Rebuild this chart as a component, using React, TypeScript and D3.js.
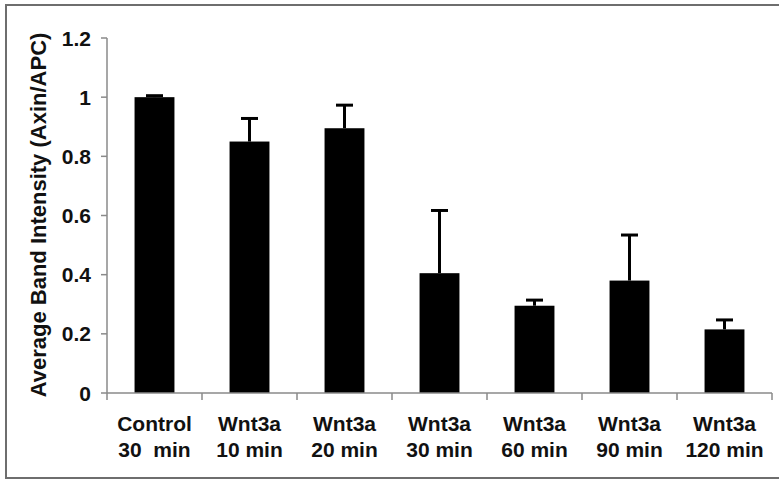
import React from "react";
import * as d3 from "d3";

const categories = [
  ["Control", "30  min"],
  ["Wnt3a", "10 min"],
  ["Wnt3a", "20 min"],
  ["Wnt3a", "30 min"],
  ["Wnt3a", "60 min"],
  ["Wnt3a", "90 min"],
  ["Wnt3a", "120 min"],
];
const values = [1.0, 0.85, 0.895, 0.405, 0.295, 0.38, 0.215];
const errors = [0.005, 0.078, 0.078, 0.212, 0.019, 0.154, 0.032];
const yTicks = [0, 0.2, 0.4, 0.6, 0.8, 1, 1.2];
const yLabel = "Average Band Intensity (Axin/APC)";

const W = 779;
const H = 480;
const left = 107;
const right = 772;
const top = 38;
const bottom = 393;
const font = "'Liberation Sans', Arial, sans-serif";

export default function App() {
  const x = d3
    .scaleBand<number>()
    .domain(d3.range(categories.length))
    .range([left, right])
    .paddingInner(0.58)
    .paddingOuter(0.29);
  const xb = d3.scaleBand<number>().domain(d3.range(categories.length)).range([left, right]);
  const y = d3.scaleLinear().domain([0, 1.2]).range([bottom, top]);
  const bw = x.bandwidth();
  const capW = 17;
  const axisColor = "#8a8a8a";

  return (
    <svg
      width={W}
      height={H}
      style={{ position: "absolute", left: 0, top: 0, background: "#fff" }}
      fontFamily={font}
      fontWeight="bold"
    >
      <rect x={0} y={0} width={W} height={H} fill="#fff" />
      <rect x={6} y={5} width={W + 10} height={473} fill="none" stroke="#6e6e6e" strokeWidth={2} />

      {/* error bars */}
      {values.map((v, i) => {
        const cx = (x(i) as number) + bw / 2;
        const yt = y(v + errors[i]);
        return (
          <g key={"e" + i} stroke="#000" strokeWidth={3}>
            <line x1={cx} x2={cx} y1={y(v)} y2={yt} />
            <line x1={cx - capW / 2} x2={cx + capW / 2} y1={yt} y2={yt} />
          </g>
        );
      })}

      {/* bars */}
      {values.map((v, i) => (
        <rect
          key={"b" + i}
          x={x(i) as number}
          y={y(v)}
          width={bw}
          height={y(0) - y(v)}
          fill="#000"
        />
      ))}

      {/* y axis */}
      <line x1={left} x2={left} y1={top} y2={bottom} stroke={axisColor} strokeWidth={1.5} />
      {yTicks.map((t) => (
        <g key={"yt" + t}>
          <line x1={left - 6} x2={left} y1={y(t)} y2={y(t)} stroke={axisColor} strokeWidth={1.5} />
          <text
            x={91}
            y={y(t)}
            textAnchor="end"
            dominantBaseline="central"
            fontSize={21}
            fill="#111"
          >
            {String(t)}
          </text>
        </g>
      ))}

      {/* x axis */}
      <line x1={left} x2={right} y1={bottom} y2={bottom} stroke={axisColor} strokeWidth={1.5} />
      {d3.range(categories.length + 1).map((i) => {
        const xx = i < categories.length ? (xb(i) as number) : right;
        return (
          <line key={"xt" + i} x1={xx} x2={xx} y1={bottom} y2={bottom + 7} stroke={axisColor} strokeWidth={1.5} />
        );
      })}
      {categories.map((c, i) => {
        const cx = (x(i) as number) + bw / 2;
        return (
          <text key={"xl" + i} textAnchor="middle" fontSize={21} fill="#111" style={{ whiteSpace: "pre" }}>
            <tspan x={cx} y={431}>{c[0]}</tspan>
            <tspan x={cx} y={457}>{c[1]}</tspan>
          </text>
        );
      })}

      {/* y label */}
      <text
        transform={`translate(38, ${(30 + 400) / 2}) rotate(-90)`}
        textAnchor="middle"
        dominantBaseline="central"
        fontSize={22}
        fill="#111"
      >
        {yLabel}
      </text>
    </svg>
  );
}
